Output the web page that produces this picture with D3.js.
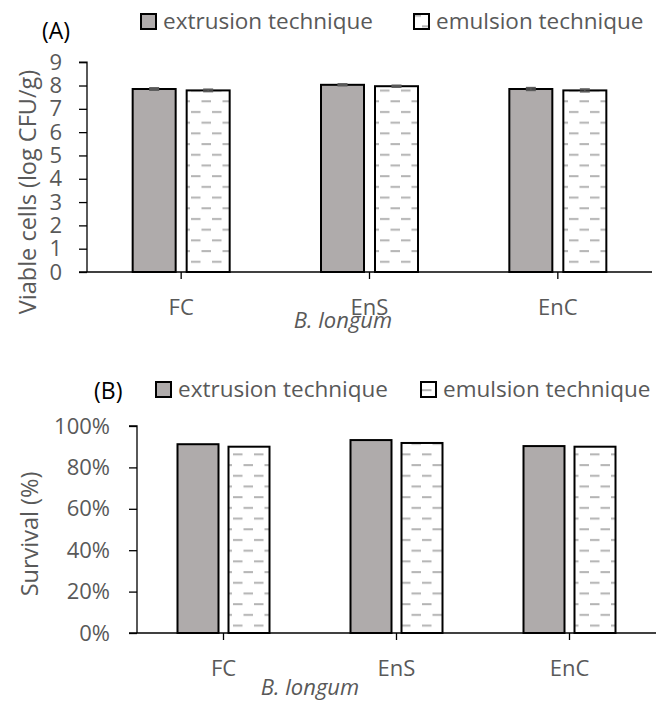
<!DOCTYPE html>
<html>
<head>
<meta charset="utf-8">
<script src="https://cdn.jsdelivr.net/npm/d3@7"></script>
<style>
  body { margin: 0; background: #fff; }
  text { font-family: "Open Sans", sans-serif; fill: #595959; }
</style>
</head>
<body>
<svg id="chart" width="657" height="707"></svg>
<script>
const categories = ["FC", "EnS", "EnC"];
const seriesNames = ["extrusion technique", "emulsion technique"];
const viableExtrusion = [7.85, 8.03, 7.85];
const viableEmulsion = [7.79, 7.97, 7.79];
const viableErr = [0.04, 0.03, 0.05];
const survivalExtrusion = [0.912, 0.932, 0.903];
const survivalEmulsion = [0.900, 0.918, 0.900];
const viableTicks = [0, 1, 2, 3, 4, 5, 6, 7, 8, 9];
const survivalTicks = [0, 0.2, 0.4, 0.6, 0.8, 1.0];

const svg = d3.select("#chart");

// dashed-horizontal fill like Excel's pattern
const defs = svg.append("defs");
const pat = defs.append("pattern").attr("id", "dash").attr("patternUnits", "userSpaceOnUse")
  .attr("width", 21).attr("height", 21.4);
pat.append("rect").attr("width", 21).attr("height", 21.4).attr("fill", "#fff");
pat.append("rect").attr("x", 2).attr("y", 4).attr("width", 9.5).attr("height", 2).attr("fill", "#b4b4b4");
pat.append("rect").attr("x", 12.5).attr("y", 14.7).attr("width", 9.5).attr("height", 2).attr("fill", "#b4b4b4");
pat.append("rect").attr("x", -8.5).attr("y", 14.7).attr("width", 9.5).attr("height", 2).attr("fill", "#b4b4b4");

function drawPanel(cfg) {
  const g = svg.append("g");
  const x = d3.scaleBand().domain(categories).range([cfg.left, cfg.right]);
  const y = d3.scaleLinear().domain([0, cfg.max]).range([cfg.bottom, cfg.top]);

  // y axis
  const yAxis = d3.axisLeft(y).tickValues(cfg.ticks).tickSize(8).tickFormat(cfg.fmt);
  const ya = g.append("g").attr("transform", `translate(${cfg.left},0)`).call(yAxis);
  ya.select(".domain").attr("stroke", "#000").attr("stroke-width", 1.3).attr("d", `M-8,${y(cfg.max)}H0V${cfg.bottom}`);
  ya.selectAll(".tick line").attr("stroke", "#000").attr("stroke-width", 1.3);
  ya.selectAll(".tick text").attr("x", -cfg.labelGap).style("font-size", "22px")
    .style("font-family", "'Open Sans', sans-serif").attr("fill", "#595959");

  // x axis
  const xa = g.append("g").attr("transform", `translate(0,${cfg.bottom})`)
    .call(d3.axisBottom(x).tickSize(7));
  xa.select(".domain").attr("stroke", "#000").attr("stroke-width", 1.5).attr("d", `M${cfg.left - 8},0H${cfg.right}`);
  xa.selectAll(".tick line").attr("stroke", "#000").attr("stroke-width", 1.3);
  xa.selectAll(".tick text").style("font-size", "22px").style("font-family", "'Open Sans', sans-serif")
    .attr("fill", "#595959").attr("y", 43).attr("dy", 0);

  const bw = cfg.barW, gap = cfg.gap;
  const series = [
    { vals: cfg.a, fill: "#afabab", off: -gap / 2 - bw },
    { vals: cfg.b, fill: "url(#dash)", off: gap / 2 }
  ];
  series.forEach(s => {
    g.selectAll(null).data(categories).enter().append("rect")
      .attr("x", (d) => x(d) + x.bandwidth() / 2 + s.off)
      .attr("y", (d, i) => y(s.vals[i]))
      .attr("width", bw)
      .attr("height", (d, i) => cfg.bottom - y(s.vals[i]))
      .attr("fill", s.fill).attr("stroke", "#000").attr("stroke-width", 2);
    if (cfg.err) {
      g.selectAll(null).data(categories).enter().append("g").each(function(d, i) {
        const cx = x(d) + x.bandwidth() / 2 + s.off + bw / 2;
        const e = cfg.err[i];
        const gg = d3.select(this);
        gg.append("line").attr("x1", cx).attr("x2", cx).attr("y1", y(s.vals[i] + e)).attr("y2", y(s.vals[i] - e))
          .attr("stroke", "#595959").attr("stroke-width", 1.5);
        [s.vals[i] + e, s.vals[i] - e].forEach(v => {
          gg.append("line").attr("x1", cx - 5).attr("x2", cx + 5).attr("y1", y(v)).attr("y2", y(v))
            .attr("stroke", "#595959").attr("stroke-width", 2);
        });
      });
    }
  });

  // legend
  const legFills = ["#afabab", "url(#dash)"];
  seriesNames.forEach((n, i) => {
    const lx = cfg.legX[i];
    g.append("rect").attr("x", lx).attr("y", cfg.legY - 15).attr("width", 15).attr("height", 15)
      .attr("fill", legFills[i]).attr("stroke", "#000").attr("stroke-width", 2);
    g.append("text").attr("x", lx + 22).attr("y", cfg.legY)
      .style("font-size", "22.5px").text(n);
  });

  g.append("text").attr("x", cfg.panelX).attr("y", cfg.panelY).attr("dy", "0.35em")
    .style("font-size", "23px").style("fill", "#000").text(cfg.panel);

  g.append("text").attr("transform", `translate(${cfg.titleX},${cfg.titleY}) rotate(-90)`)
    .attr("text-anchor", "middle").attr("dy", "0.35em").style("font-size", "23.5px").text(cfg.title);

  g.append("text").attr("x", cfg.subX).attr("y", cfg.subY).attr("text-anchor", "middle")
    .style("font-size", "22px").style("font-style", "italic").text("B. longum");
}

drawPanel({
  left: 87, right: 652, top: 62.2, bottom: 272, max: 9, ticks: viableTicks, fmt: d3.format("d"),
  labelGap: 25, barW: 43, gap: 11,
  a: viableExtrusion, b: viableEmulsion, err: viableErr,
  legX: [141, 414], legY: 29, panel: "(A)", panelX: 42, panelY: 31,
  title: "Viable cells (log CFU/g)", titleX: 28, titleY: 192, subX: 343, subY: 328
});

drawPanel({
  left: 137, right: 656, top: 426, bottom: 633, max: 1, ticks: survivalTicks, fmt: d3.format(".0%"),
  labelGap: 27, barW: 41, gap: 10,
  a: survivalExtrusion, b: survivalEmulsion, err: null,
  legX: [156, 421], legY: 397, panel: "(B)", panelX: 94, panelY: 391,
  title: "Survival (%)", titleX: 30, titleY: 534, subX: 310, subY: 695
});
</script>
</body>
</html>
